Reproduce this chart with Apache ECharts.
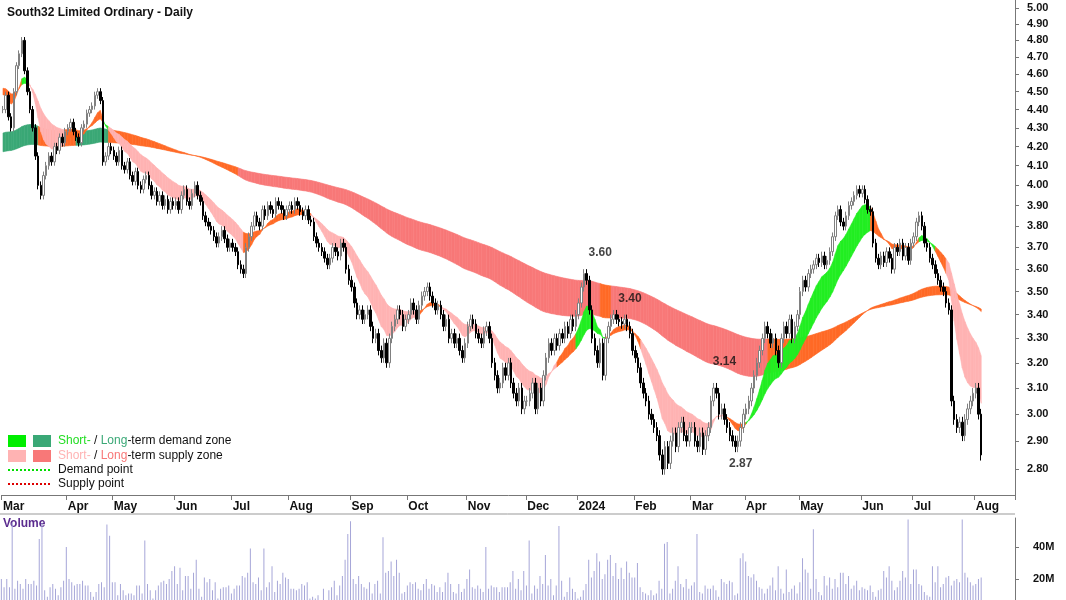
<!DOCTYPE html>
<html><head><meta charset="utf-8">
<script src="https://cdn.jsdelivr.net/npm/echarts@6/dist/echarts.min.js"></script>
<style>html,body{margin:0;padding:0;background:#fff}#c{width:1066px;height:600px}</style>
</head><body><div id="c"></div>
<script>
// ---- data: daily closes by month (trading days) ----
const monthNames = ['Mar','Apr','May','Jun','Jul','Aug','Sep','Oct','Nov','Dec','2024','Feb','Mar','Apr','May','Jun','Jul','Aug'];
const closesByMonth = [
 [4.40,4.48,4.36,4.30,4.50,4.65,4.72,4.80,4.62,4.50,4.40,4.30,4.15,4.00,3.95,4.05,4.10,4.15,4.12,4.20,4.18,4.25,4.22,4.28],
 [4.30,4.33,4.28,4.25,4.22,4.30,4.32,4.38,4.40,4.42,4.48,4.50,4.45,4.12,4.15,4.20,4.18],
 [4.15,4.12,4.18,4.10,4.08,4.12,4.05,4.02,4.07,4.00,3.98,4.03,4.05,4.00,3.95,3.97,3.92,3.95,3.90,3.93,3.88,3.92,3.90],
 [3.92,3.88,3.95,3.98,3.92,3.90,3.96,4.00,3.95,3.92,3.85,3.82,3.80,3.78,3.75,3.72,3.75,3.78,3.74,3.70,3.72],
 [3.70,3.68,3.62,3.60,3.58,3.70,3.75,3.80,3.85,3.82,3.80,3.88,3.85,3.90,3.88,3.86,3.92,3.90,3.88,3.85,3.88],
 [3.90,3.88,3.92,3.90,3.87,3.85,3.88,3.83,3.82,3.75,3.72,3.70,3.68,3.65,3.62,3.65,3.70,3.68,3.66,3.72,3.70,3.60,3.55],
 [3.52,3.45,3.40,3.42,3.38,3.40,3.42,3.35,3.30,3.32,3.25,3.22,3.28,3.20,3.30,3.35,3.38,3.42,3.40,3.35,3.38],
 [3.40,3.45,3.42,3.38,3.44,3.48,3.50,3.52,3.48,3.45,3.42,3.44,3.40,3.35,3.38,3.30,3.32,3.28,3.30,3.25,3.22,3.28],
 [3.35,3.38,3.36,3.32,3.30,3.28,3.33,3.35,3.30,3.20,3.15,3.10,3.12,3.18,3.15,3.20,3.12,3.08,3.05,3.10,3.02,3.05],
 [3.05,3.08,3.12,3.02,3.10,3.05,3.15,3.22,3.28,3.25,3.30,3.27,3.32,3.30,3.35,3.32,3.38,3.35,3.40],
 [3.45,3.52,3.58,3.55,3.42,3.30,3.25,3.20,3.28,3.15,3.30,3.35,3.38,3.40,3.38,3.37,3.36,3.38,3.35,3.32,3.25],
 [3.22,3.18,3.12,3.08,3.05,3.00,2.98,2.95,2.92,2.85,2.80,2.88,2.82,2.90,2.93,2.88,2.95,2.97,2.92,2.90,2.95],
 [2.95,2.90,2.88,2.93,2.87,2.92,2.95,3.05,3.10,3.08,3.00,3.02,2.98,2.95,2.92,2.90,2.88,2.90,2.95,3.00],
 [3.02,3.05,3.10,3.15,3.20,3.25,3.30,3.35,3.32,3.28,3.30,3.25,3.20,3.30,3.35,3.32,3.38,3.30,3.35,3.40],
 [3.50,3.55,3.52,3.58,3.60,3.62,3.65,3.63,3.66,3.62,3.64,3.68,3.75,3.85,3.88,3.82,3.80,3.85,3.90,3.92,3.95,3.98,3.96],
 [3.98,3.93,3.88,3.87,3.72,3.65,3.62,3.66,3.63,3.68,3.65,3.60,3.70,3.68,3.72,3.66,3.70,3.64,3.72],
 [3.75,3.82,3.85,3.80,3.72,3.70,3.65,3.62,3.58,3.55,3.52,3.50,3.45,3.42,3.05,2.98,2.95,2.97,2.92,2.98,3.02,3.05,3.08],
 [3.10,3.00,2.85]
];
const volumesByMonth = [ // millions
 [20,15,20,15,55,14,19,17,14,20,17,17,19,16,45,55,13,9,15,17,14,10,15,19],
 [40,20,18,16,17,17,19,16,16,12,9,12,17,18,15,54,47],
 [18,18,10,17,13,10,11,11,10,16,16,11,44,17,13,8,13,16,18,19,17,20,25],
 [28,17,27,13,22,22,14,24,32,14,9,21,18,20,13,18,8,14,15,15,16],
 [11,14,16,16,22,21,24,39,18,17,21,13,39,15,18,28,12,19,17,24,21],
 [20,14,14,13,14,17,16,18,8,9,8,10,7,14,6,13,15,19,10,16,22,32,48],
 [56,20,17,22,17,15,14,18,11,17,19,11,46,24,25,31,22,32,24,11,12],
 [16,18,17,18,14,13,17,20,14,17,16,12,15,12,18,24,17,12,11,17,12,14],
 [20,26,15,14,16,14,12,40,14,16,15,15,12,15,15,15,18,25,14,20,13,25],
 [16,44,11,16,14,22,17,35,16,20,10,16,53,19,9,12,21,14,12],
 [8,9,13,17,32,21,25,36,31,20,23,32,35,22,30,20,27,20,31,24,21],
 [21,30,15,12,11,10,13,10,11,19,14,42,43,11,14,19,28,17,15,20,14],
 [16,18,48,12,11,16,14,14,16,13,9,20,18,17,19,18,10,11,33,36],
 [31,22,21,23,19,15,14,11,14,16,21,13,28,14,11,26,12,14,16,11],
 [18,33,26,24,14,51,20,12,10,22,16,21,14,20,15,24,24,17,22,14,16,19,13],
 [15,14,13,16,12,9,13,14,25,21,28,19,13,15,19,25,21,57,17],
 [26,26,17,16,12,10,9,28,18,28,15,17,21,22,16,19,20,18,57,24,21,18,16],
 [17,20,21]
];
const priceTicks = [2.80,2.90,3.00,3.10,3.20,3.30,3.40,3.50,3.60,3.70,3.80,3.90,4.00,4.10,4.20,4.30,4.40,4.50,4.60,4.70,4.80,4.90,5.00];
const volumeTicks = [20,40];
// band zones: start indexes and kinds (d=demand, s=supply, n=neutral)
const shortZoneStarts = [0,7,9,23,37,39,89,114,153,162,205,212,223,236,268,275,321,339,345,349];
const shortZoneKinds  = ['n','d','s','n','d','s','n','s','n','s','n','d','n','s','n','d','n','d','n','s'];
const longZoneStarts  = [0,13,27,39,87,221,225,283];
const longZoneKinds   = ['d','n','d','n','s','n','s','n'];
const annotations = [[221,3.60,'3.60','top'],[232,3.40,'3.40','top'],[267,3.14,'3.14','top'],[273,2.87,'2.87','bottom']];
const emaSeeds = {sFast:4.50, sSlow:4.53, lFast:4.27, lSlow:4.17};
const emaPeriods = {sFast:10, sSlow:24, lFast:105, lSlow:180};
const padDays = 12;

// ---- build ----
const closes = closesByMonth.flat();
const vols = volumesByMonth.flat();
const N = closes.length, total = N + padDays;
const cats = []; for (let i=0;i<total;i++) cats.push(String(i));
const monthStartIdx = {}; let acc = 0;
closesByMonth.forEach((m,k)=>{ monthStartIdx[acc] = monthNames[k]; acc += m.length; });
const L = Math.log;
const candles = closes.map((c,i)=>{
  const o = i===0 ? c : closes[i-1];
  const hi = Math.max(o,c)+0.02, lo = Math.min(o,c)-0.02;
  return [L(o),L(c),L(lo),L(hi)];
});
function ema(p, seed){ const a=2/(p+1); let v=seed; return closes.map(c=> (v = v + a*(c-v))); }
const sF = ema(emaPeriods.sFast, emaSeeds.sFast), sS = ema(emaPeriods.sSlow, emaSeeds.sSlow);
const lF = ema(emaPeriods.lFast, emaSeeds.lFast), lS = ema(emaPeriods.lSlow, emaSeeds.lSlow);
function zoneAt(starts, kinds, i){ let k=kinds[0]; for (let j=0;j<starts.length;j++) if (i>=starts[j]) k=kinds[j]; return k; }
const shortCol = {d:'#22ee22', s:'#ffb3b3', n:'#ff6a26'};
const longCol  = {d:'#3aa876', s:'#f87878', n:'#ff6a26'};
function bandData(a,b,starts,kinds){
  const out=[]; for (let i=0;i<N-1;i++) out.push([i, L(a[i]), L(b[i]), L(a[i+1]), L(b[i+1]), zoneAt(starts,kinds,i)]);
  return out;
}
function bandSeries(data, cols){
  return { type:'custom', xAxisIndex:0, yAxisIndex:0, z:1, silent:true,
    renderItem:(params, api)=>{
      const i=api.value(0);
      const p1=api.coord([i,api.value(1)]), p2=api.coord([i,api.value(2)]);
      const p3=api.coord([i+1,api.value(4)]), p4=api.coord([i+1,api.value(3)]);
      const col=cols[data[params.dataIndex][5]];
      return {type:'polygon', shape:{points:[p1,p2,p3,p4]}, style:{fill:col, stroke:col, lineWidth:0.6}};
    },
    encode:{x:0,y:[1,2]}, data: data.map(d=>d.slice(0,5)) };
}
const longB = bandData(lF,lS,longZoneStarts,longZoneKinds);
const shortB = bandData(sF,sS,shortZoneStarts,shortZoneKinds);

const chart = echarts.init(document.getElementById('c'));
const font = 'Liberation Sans, Arial, sans-serif';
const xLabel = {interval:(i)=>monthStartIdx[i]!==undefined, formatter:(v,i)=>monthStartIdx[i]||'', color:'#111', fontWeight:'bold', fontSize:12, fontFamily:font, align:'left', margin:6};
chart.setOption({
  animation:false,
  title:{text:'South32 Limited Ordinary - Daily', left:2, top:2, textStyle:{fontSize:12, fontWeight:'bold', color:'#111', fontFamily:font}},
  grid:[{left:0, right:51, top:0, height:495},{left:0, right:51, top:518, bottom:0}],
  xAxis:[
    {type:'category', gridIndex:0, data:cats, boundaryGap:true, axisLine:{lineStyle:{color:'#777'}},
     axisTick:{show:true, interval:(i)=>monthStartIdx[i]!==undefined, length:5, lineStyle:{color:'#777'}}, axisLabel:xLabel},
    {type:'category', gridIndex:1, data:cats, boundaryGap:true, axisLine:{show:false}, axisTick:{show:false}, axisLabel:{show:false}}
  ],
  yAxis:[
    {type:'value', gridIndex:0, position:'right', min:L(2.71), max:L(5.05), splitLine:{show:false},
     axisLine:{show:true, lineStyle:{color:'#777'}},
     axisTick:{show:true, customValues:priceTicks.map(L), length:4, lineStyle:{color:'#777'}},
     axisLabel:{customValues:priceTicks.map(L), formatter:v=>Math.exp(v).toFixed(2), color:'#111', fontWeight:'bold', fontSize:11, fontFamily:font, margin:12}},
    {type:'value', gridIndex:1, position:'right', min:7, max:58, splitLine:{show:false},
     axisLine:{show:true, lineStyle:{color:'#777'}},
     axisTick:{show:true, customValues:volumeTicks, length:4, lineStyle:{color:'#777'}},
     axisLabel:{customValues:volumeTicks, formatter:v=>v+'M', color:'#111', fontWeight:'bold', fontSize:11, fontFamily:font, margin:18}}
  ],
  series:[
    bandSeries(longB, longCol),
    bandSeries(shortB, shortCol),
    {type:'candlestick', xAxisIndex:0, yAxisIndex:0, z:3, barWidth:2,
     itemStyle:{color:'#ffffff', borderColor:'#808080', color0:'#000000', borderColor0:'#000000', borderWidth:1},
     data:candles},
    {type:'scatter', xAxisIndex:0, yAxisIndex:0, z:4, symbolSize:0, silent:true,
     data:annotations.map(a=>({value:[a[0],L(a[1])], label:{show:true, formatter:a[2], position:a[3], distance:a[3]==='top'?10:8, color:'#111', fontWeight:'bold', fontSize:12, fontFamily:font}}))},
    {type:'bar', xAxisIndex:1, yAxisIndex:1, data:vols, barWidth:1, itemStyle:{color:'#a6a6d8'}}
  ],
  graphic:[
    {type:'line', shape:{x1:0,y1:514,x2:1015,y2:514}, style:{stroke:'#999', lineWidth:1}},
    {type:'text', left:3, top:518, style:{text:'Volume', fill:'#5b2c8f', font:'bold 12px '+font}},
    {type:'rect', shape:{x:8,y:435,width:18,height:12}, style:{fill:'#00ee00'}},
    {type:'rect', shape:{x:33,y:435,width:18,height:12}, style:{fill:'#3aa876'}},
    {type:'rect', shape:{x:8,y:450,width:18,height:12}, style:{fill:'#ffb3b3'}},
    {type:'rect', shape:{x:33,y:450,width:18,height:12}, style:{fill:'#f87878'}},
    {type:'line', shape:{x1:8,y1:470,x2:52,y2:470}, style:{stroke:'#00dd00', lineWidth:2, lineDash:[2,2]}},
    {type:'line', shape:{x1:8,y1:484,x2:52,y2:484}, style:{stroke:'#dd0000', lineWidth:2, lineDash:[2,2]}},
    {type:'text', left:58, top:435, style:{text:'{a|Short-} / {b|Long}-term demand zone', font:'12px '+font, fill:'#111', rich:{a:{fill:'#22dd22',font:'12px '+font},b:{fill:'#3aa876',font:'12px '+font}}}},
    {type:'text', left:58, top:450, style:{text:'{a|Short-} / {b|Long}-term supply zone', font:'12px '+font, fill:'#111', rich:{a:{fill:'#ffb3b3',font:'12px '+font},b:{fill:'#f87878',font:'12px '+font}}}},
    {type:'text', left:58, top:464, style:{text:'Demand point', font:'12px '+font, fill:'#111'}},
    {type:'text', left:58, top:478, style:{text:'Supply point', font:'12px '+font, fill:'#111'}}
  ]
});
</script></body></html>
